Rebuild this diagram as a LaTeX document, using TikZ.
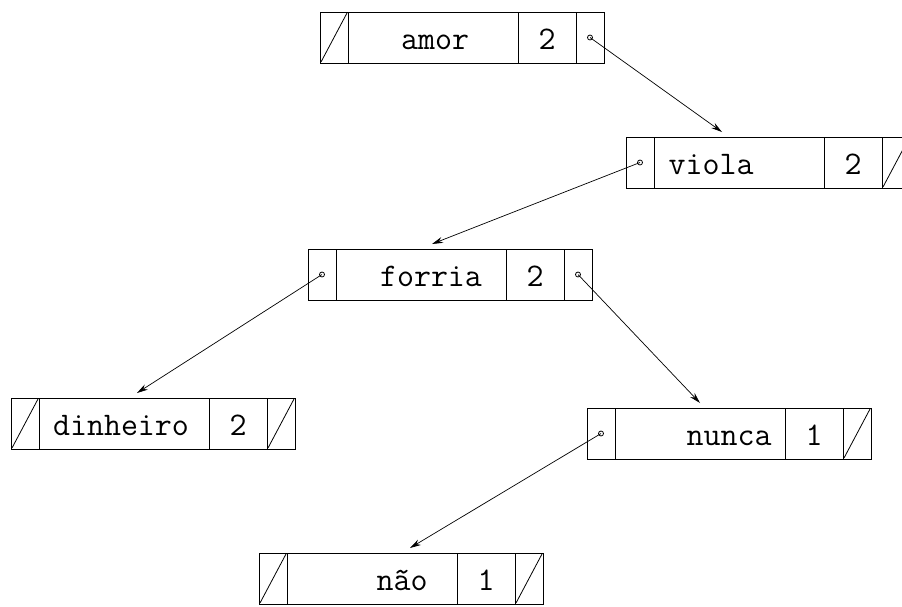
\documentclass[tikz,border=0pt]{standalone}
\usepackage{fontspec}
\usepackage{tikz}
\usetikzlibrary{arrows.meta}

\tikzset{
  cell/.style={draw, line width=0.8pt, minimum height=51, inner sep=0pt, outer sep=0pt},
  word/.style={font=\ttfamily\fontsize{33}{33}\selectfont, anchor=base, inner sep=0pt}
}

\begin{document}
\begin{tikzpicture}[x=1pt, y=-1pt, >={Stealth[length=11pt,width=6pt]}]
  \clip (0,0) rectangle (902,606);
  % records: name / top left / word / shift of word / count
  \foreach \n/\x/\y/\w/\s/\c in {amor/320/12/amor/2/2, viola/626/137/viola/-28/2,
      forria/308/249/forria/10/2, dinheiro/11/398/dinheiro/-3/2,
      nunca/587/408/nunca/29/1, nao/259/553/não/30/1} {
    \node[cell, minimum width=28, anchor=north west] (\n-l) at (\x,\y) {};
    \node[cell, minimum width=170, anchor=west] (\n-w) at (\n-l.east) {};
    \node[cell, minimum width=58, anchor=west] (\n-c) at (\n-w.east) {};
    \node[cell, minimum width=28, anchor=west] (\n-r) at (\n-c.east) {};
    \node[word] (\n-t) at ([xshift=\s, yshift=-12]\n-w.center) {\w};
    \node[word] (\n-k) at ([yshift=-12]\n-c.center) {\c};
  }
  % empty links
  \foreach \p in {amor-l, viola-r, dinheiro-l, dinheiro-r, nunca-r, nao-l, nao-r}
    \draw[line width=0.8pt] ([shift={(1,-1)}]\p.south west) -- ([shift={(-1,1)}]\p.north east);
  % pointers
  \foreach \p in {amor-r, viola-l, forria-l, forria-r, nunca-l}
    \draw[line width=0.8pt] (\p.center) circle (2.5);
  \draw[->, line width=0.7pt] (amor-r.center) -- ([xshift=-17, yshift=5]viola-w.north);
  \draw[->, line width=0.7pt] (viola-l.center) -- ([xshift=11, yshift=5]forria-w.north);
  \draw[->, line width=0.7pt] (forria-l.center) -- ([xshift=13, yshift=5]dinheiro-w.north);
  \draw[->, line width=0.7pt] (forria-r.center) -- ([yshift=5]nunca-w.north);
  \draw[->, line width=0.7pt] (nunca-l.center) -- ([xshift=38, yshift=5]nao-w.north);
\end{tikzpicture}
\end{document}
